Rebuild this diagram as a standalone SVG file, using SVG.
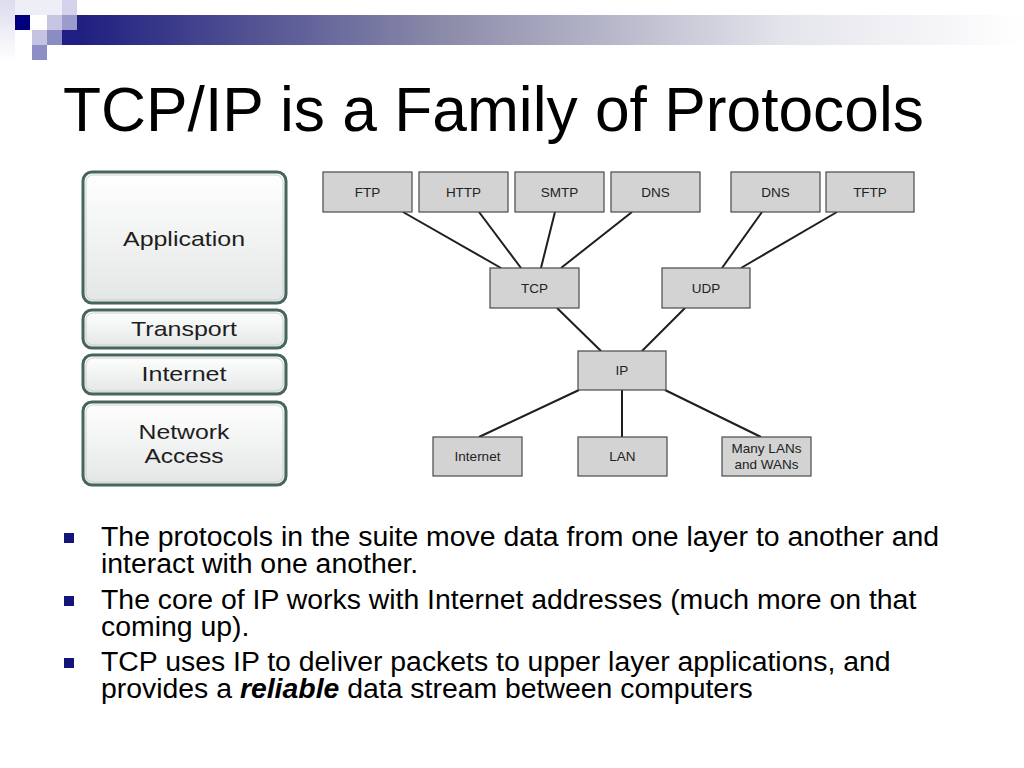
<svg xmlns="http://www.w3.org/2000/svg" width="1024" height="768" viewBox="0 0 1024 768">
<defs>
<linearGradient id="bar" x1="0" y1="0" x2="1" y2="0">
<stop offset="0" stop-color="#1a1a7e"/>
<stop offset="0.4" stop-color="#8c8caa"/>
<stop offset="0.75" stop-color="#e4e4ec"/>
<stop offset="1" stop-color="#ffffff"/>
</linearGradient>
<linearGradient id="pale" x1="0" y1="0" x2="0" y2="1">
<stop offset="0" stop-color="#dcdcee"/>
<stop offset="1" stop-color="#ffffff"/>
</linearGradient>
<linearGradient id="layerfill" x1="0" y1="0" x2="0" y2="1">
<stop offset="0" stop-color="#ffffff"/>
<stop offset="1" stop-color="#e4e6e6"/>
</linearGradient>
<style>
.layer{fill:url(#layerfill);stroke:#46655f;stroke-width:3}
.layerin{fill:none;stroke:#c9d2d0;stroke-width:1}
.ltxt{font-family:"Liberation Sans",Arial,sans-serif;font-size:21px;fill:#1e1e1e;text-anchor:middle}
.box{fill:#d3d3d3;stroke:#4a4a4a;stroke-width:1.2}
.btxt{font-family:"Liberation Sans",Arial,sans-serif;font-size:13.5px;fill:#222;text-anchor:middle}
.conn line{stroke:#1e1e1e;stroke-width:2}
.body{font-family:"Liberation Sans",Arial,sans-serif;font-size:28.4px;fill:#000}
.bullet{fill:#14147a}
</style>
</defs>
<rect width="1024" height="768" fill="#ffffff"/>

<!-- header decoration -->
<g id="header">
<rect x="0" y="0" width="15" height="62" fill="url(#pale)"/>
<rect x="15" y="0" width="47" height="15" fill="#eeeef6"/>
<rect x="62" y="15" width="962" height="30" fill="url(#bar)"/>
<rect x="62" y="30" width="15" height="15" fill="#1e1e84"/>
<rect x="15" y="15" width="15" height="15" fill="#00007e"/>
<rect x="47" y="15" width="15" height="15" fill="#c6c6e2"/>
<rect x="62" y="15" width="15" height="15" fill="#9c9ccc"/>
<rect x="62" y="0" width="15" height="15" fill="#d2d2ea"/>
<rect x="32" y="30" width="15" height="15" fill="#c4c4e0"/>
<rect x="47" y="30" width="15" height="15" fill="#8c8cc4"/>
<rect x="32" y="45" width="15" height="15" fill="#8e8ec6"/>
</g>

<text x="63" y="131" font-family="Liberation Sans, Arial, sans-serif" font-size="62.3" fill="#000">TCP/IP is a Family of Protocols</text>

<!-- layer stack -->
<g id="layer-application">
<rect class="layer" x="83" y="172" width="203" height="131" rx="9"/>
<rect class="layerin" x="86" y="175" width="197" height="125" rx="7"/>
<text class="ltxt" x="184" y="246" textLength="122" lengthAdjust="spacingAndGlyphs">Application</text>
</g>
<g id="layer-transport">
<rect class="layer" x="83" y="310" width="203" height="38" rx="9"/>
<rect class="layerin" x="86" y="313" width="197" height="32" rx="7"/>
<text class="ltxt" x="184" y="336" textLength="106" lengthAdjust="spacingAndGlyphs">Transport</text>
</g>
<g id="layer-internet">
<rect class="layer" x="83" y="355" width="203" height="39" rx="9"/>
<rect class="layerin" x="86" y="358" width="197" height="33" rx="7"/>
<text class="ltxt" x="184" y="381" textLength="85" lengthAdjust="spacingAndGlyphs">Internet</text>
</g>
<g id="layer-network-access">
<rect class="layer" x="83" y="402" width="203" height="83" rx="9"/>
<rect class="layerin" x="86" y="405" width="197" height="77" rx="7"/>
<text class="ltxt" x="184" y="439" textLength="91" lengthAdjust="spacingAndGlyphs">Network</text>
<text class="ltxt" x="184" y="463" textLength="79" lengthAdjust="spacingAndGlyphs">Access</text>
</g>

<!-- connectors -->
<g id="connectors" class="conn">
<line x1="403" y1="212" x2="501" y2="268"/>
<line x1="479" y1="212" x2="521" y2="268"/>
<line x1="555" y1="212" x2="541" y2="268"/>
<line x1="632" y1="212" x2="561" y2="268"/>
<line x1="762" y1="212" x2="722" y2="268"/>
<line x1="837" y1="212" x2="741" y2="268"/>
<line x1="557" y1="308" x2="601" y2="351"/>
<line x1="685" y1="308" x2="642" y2="351"/>
<line x1="579" y1="390" x2="479" y2="437"/>
<line x1="622" y1="390" x2="622" y2="437"/>
<line x1="665" y1="390" x2="761" y2="437"/>
</g>

<!-- protocol nodes -->
<g id="node-ftp"><rect class="box" x="323" y="172" width="89" height="40"/><text class="btxt" x="367.5" y="197">FTP</text></g>
<g id="node-http"><rect class="box" x="419" y="172" width="89" height="40"/><text class="btxt" x="463.5" y="197">HTTP</text></g>
<g id="node-smtp"><rect class="box" x="515" y="172" width="89" height="40"/><text class="btxt" x="559.5" y="197">SMTP</text></g>
<g id="node-dns-tcp"><rect class="box" x="611" y="172" width="89" height="40"/><text class="btxt" x="655.5" y="197">DNS</text></g>
<g id="node-dns-udp"><rect class="box" x="731" y="172" width="89" height="40"/><text class="btxt" x="775.5" y="197">DNS</text></g>
<g id="node-tftp"><rect class="box" x="826" y="172" width="88" height="40"/><text class="btxt" x="870" y="197">TFTP</text></g>
<g id="node-tcp"><rect class="box" x="490" y="268" width="89" height="40"/><text class="btxt" x="534.5" y="293">TCP</text></g>
<g id="node-udp"><rect class="box" x="662" y="268" width="88" height="40"/><text class="btxt" x="706" y="293">UDP</text></g>
<g id="node-ip"><rect class="box" x="578" y="351" width="88" height="39"/><text class="btxt" x="622" y="375">IP</text></g>
<g id="node-internet"><rect class="box" x="433" y="437" width="89" height="39"/><text class="btxt" x="477.5" y="461">Internet</text></g>
<g id="node-lan"><rect class="box" x="578" y="437" width="89" height="39"/><text class="btxt" x="622.5" y="461">LAN</text></g>
<g id="node-many"><rect class="box" x="722" y="437" width="89" height="39"/><text class="btxt" x="766.5" y="453">Many LANs</text><text class="btxt" x="766.5" y="469">and WANs</text></g>

<!-- bullets -->
<g id="bullets">
<rect class="bullet" x="64" y="533" width="10" height="10"/>
<text class="body" x="101" y="546">The protocols in the suite move data from one layer to another and</text>
<text class="body" x="101" y="573">interact with one another.</text>
<rect class="bullet" x="64" y="596" width="10" height="10"/>
<text class="body" x="101" y="609">The core of IP works with Internet addresses (much more on that</text>
<text class="body" x="101" y="636">coming up).</text>
<rect class="bullet" x="64" y="658" width="10" height="10"/>
<text class="body" x="101" y="671">TCP uses IP to deliver packets to upper layer applications, and</text>
<text class="body" x="101" y="698">provides a <tspan font-weight="bold" font-style="italic">reliable</tspan> data stream between computers</text>
</g>
</svg>
